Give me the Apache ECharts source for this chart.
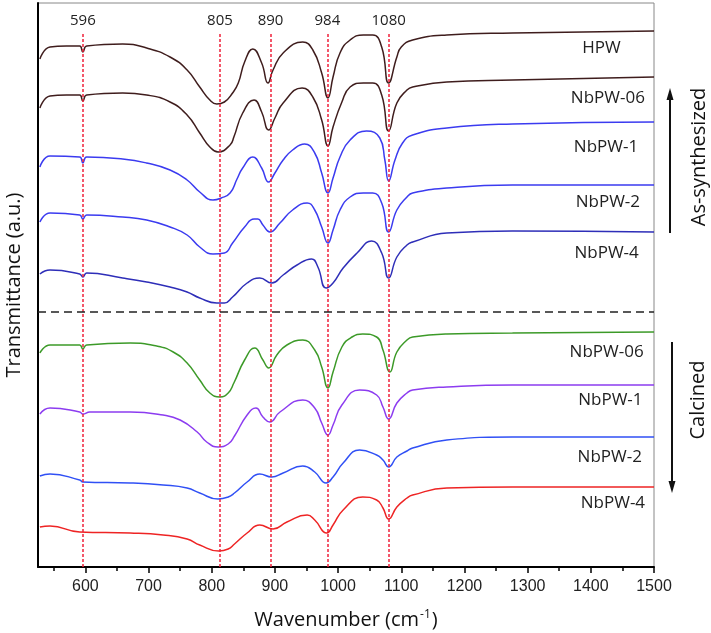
<!DOCTYPE html>
<html>
<head>
<meta charset="utf-8">
<title>FTIR spectra</title>
<script src="https://cdn.jsdelivr.net/npm/echarts@6.0.0/dist/echarts.min.js"></script>
<style>
  html, body { margin: 0; padding: 0; background: #fff; }
  #chart { width: 711px; height: 633px; }
</style>
</head>
<body>
<div id="chart"></div>
<script>
// [wavenumber (cm-1), transmittance (a.u., stacked offset)]
const asHPW = [[528,508],[544,520],[570,521],[591,521],[596,515],[602,521],[659,523],[697,519],[734,510],[761,497],[781,480],[797,467],[808,463],[820,465],[833,474],[842,484],[852,505],[865,518],[879,504],[889,484],[897,497],[913,514],[944,525],[960,517],[974,494],[984,469],[992,490],[1003,514],[1019,527],[1040,532],[1055,532],[1069,520],[1080,484],[1093,510],[1100,520],[1118,527],[1172,532],[1276,534],[1500,536]];
const asNb06 = [[528,459],[544,471],[570,472],[591,472],[596,466],[602,472],[659,474],[697,472],[734,465],[761,452],[781,434],[797,420],[810,415],[829,422],[835,430],[849,454],[867,467],[879,455],[890,437],[900,449],[913,464],[943,479],[960,470],[974,447],[984,421],[992,440],[1006,465],[1019,480],[1040,484],[1055,484],[1069,472],[1080,436],[1093,464],[1109,477],[1118,480],[1172,485],[1276,487],[1500,490]];
const asNb1 = [[528,400],[544,411],[591,410],[596,404],[602,410],[659,408],[697,404],[734,397],[761,387],[781,375],[802,367],[815,369],[829,374],[840,388],[849,399],[865,410],[879,399],[890,385],[900,394],[913,407],[928,417],[947,423],[963,414],[974,394],[984,374],[992,389],[1003,410],[1019,427],[1045,436],[1066,429],[1074,407],[1080,386],[1090,407],[1102,424],[1118,432],[1172,439],[1276,443],[1500,445]];
const asNb2 = [[528,345],[544,354],[591,352],[596,348],[602,352],[659,350],[697,347],[734,340],[761,332],[781,320],[802,313],[820,314],[833,324],[852,340],[867,348],[873,348],[881,342],[892,335],[908,344],[928,357],[951,364],[963,357],[974,340],[984,324],[992,337],[1003,357],[1019,370],[1040,374],[1055,374],[1069,364],[1080,335],[1093,357],[1109,370],[1118,374],[1172,379],[1276,382],[1500,382]];
const asNb4 = [[528,293],[544,297],[591,293],[596,290],[602,294],[659,289],[697,285],[734,280],[761,275],[781,269],[808,264],[820,264],[833,270],[856,284],[876,289],[895,284],[913,292],[935,302],[958,308],[968,300],[981,279],[992,284],[1008,299],[1030,314],[1053,326],[1069,314],[1080,289],[1093,310],[1109,322],[1118,325],[1172,334],[1276,336],[1500,335]];
const caNb06 = [[528,214],[544,222],[591,222],[596,218],[602,222],[671,224],[713,221],[739,215],[761,204],[781,187],[797,174],[813,170],[826,174],[835,184],[852,207],[868,219],[881,207],[890,199],[903,212],[919,222],[944,227],[963,217],[974,200],[984,179],[992,195],[1006,220],[1022,230],[1039,233],[1061,230],[1071,217],[1082,195],[1093,215],[1109,227],[1118,230],[1172,233],[1276,234],[1500,235]];
const caNb1 = [[528,153],[544,159],[591,155],[596,153],[607,155],[671,155],[723,152],[750,147],[777,135],[792,125],[810,120],[826,123],[836,131],[856,152],[870,159],[881,150],[892,145],[908,155],[944,167],[963,159],[974,144],[984,132],[992,142],[1006,162],[1034,177],[1061,172],[1071,160],[1080,148],[1093,164],[1109,174],[1118,177],[1172,180],[1276,182],[1500,182]];
const caNb2 = [[528,91],[544,93],[591,87],[596,85],[671,84],[723,82],[761,79],[781,74],[810,68],[826,70],[836,74],[856,85],[876,93],[895,90],[913,94],[944,101],[963,95],[981,84],[992,90],[1008,104],[1034,117],[1061,112],[1071,107],[1080,100],[1093,110],[1109,116],[1118,119],[1172,127],[1276,130],[1500,130]];
const caNb4 = [[528,40],[544,41],[591,35],[671,34],[723,32],[761,28],[781,22],[811,16],[826,18],[836,23],[856,34],[876,42],[897,38],[919,45],[951,52],[963,47],[982,34],[992,42],[1008,57],[1039,70],[1061,67],[1071,59],[1080,48],[1093,60],[1109,69],[1118,72],[1172,79],[1276,80],[1500,80]];

const peakPositions = [596, 813, 893, 983, 1080];
const peakLabels = ['596', '805', '890', '984', '1080'];
const separatorLevel = 255;
const peakLineTop = 535;

const xMajorTicks = [600, 700, 800, 900, 1000, 1100, 1200, 1300, 1400, 1500];
const xMinorTicks = [550, 650, 750, 850, 950, 1050, 1150, 1250, 1350, 1450];

const labelFont = '"Open Sans", "Noto Sans", sans-serif';

const spectra = [
  { name: 'HPW', data: asHPW, color: '#3f1d1d', labelAt: [1417, 519] },
  { name: 'NbPW-06', data: asNb06, color: '#3f1d1d', labelAt: [1427, 469] },
  { name: 'NbPW-1', data: asNb1, color: '#3b3bf0', labelAt: [1424, 420] },
  { name: 'NbPW-2', data: asNb2, color: '#3b3bf0', labelAt: [1427, 365] },
  { name: 'NbPW-4', data: asNb4, color: '#2e2eb8', labelAt: [1425, 314] },
  { name: 'NbPW-06', data: caNb06, color: '#3c9a28', labelAt: [1425, 215] },
  { name: 'NbPW-1', data: caNb1, color: '#8c3cf0', labelAt: [1431, 167] },
  { name: 'NbPW-2', data: caNb2, color: '#3050f5', labelAt: [1430, 110] },
  { name: 'NbPW-4', data: caNb4, color: '#ee2424', labelAt: [1435, 64] },
];

const chart = echarts.init(document.getElementById('chart'));

const series = spectra.map((s, index) => ({
  type: 'line',
  name: s.name + '-' + index,
  data: s.data,
  showSymbol: false,
  smooth: 0.5,
  lineStyle: { color: s.color, width: 1.5 },
  itemStyle: { color: s.color },
  silent: true,
  markPoint: {
    symbol: 'circle',
    symbolSize: 0,
    silent: true,
    label: {
      show: true,
      position: 'inside',
      formatter: s.name,
      color: '#222',
      fontSize: 17,
      fontFamily: labelFont,
    },
    data: [{ coord: s.labelAt }],
  },
}));

// peak guides and the as-synthesized / calcined separator
series[0].markLine = {
  silent: true,
  symbol: 'none',
  animation: false,
  lineStyle: { color: '#f0213a', type: [3, 2], width: 1.5 },
  label: {
    show: true,
    position: 'end',
    formatter: '{b}',
    color: '#222',
    fontSize: 15,
    fontFamily: labelFont,
    distance: 4,
  },
  data: peakPositions.map((x, i) => [
    { name: peakLabels[i], coord: [x, 0] },
    { coord: [x, peakLineTop] },
  ]).concat([
    {
      yAxis: separatorLevel,
      lineStyle: { color: '#222', type: [8, 5], width: 1.5 },
      label: { show: false },
    },
  ]),
};

const option = {
  animation: false,
  grid: {
    left: 38,
    right: 57,
    top: 3,
    bottom: 66,
    outerBoundsMode: 'none',
    show: true,
    borderColor: '#888',
    borderWidth: 1,
  },
  xAxis: [
    {
      type: 'value',
      min: 525,
      max: 1500,
      name: '{a|Wavenumber (cm}{s|-1}{a|)}',
      nameLocation: 'middle',
      nameGap: 42,
      nameTextStyle: {
        rich: {
          a: { fontSize: 20, fontFamily: labelFont, color: '#111' },
          s: { fontSize: 12, fontFamily: labelFont, color: '#111', verticalAlign: 'top', padding: [0, 1, 10, 1] },
        },
      },
      axisLine: { lineStyle: { color: '#000', width: 2 } },
      axisTick: { customValues: xMajorTicks, length: 6, lineStyle: { color: '#000', width: 1.5 } },
      axisLabel: {
        customValues: xMajorTicks,
        formatter: (value) => String(value),
        color: '#222',
        fontSize: 16,
        margin: 12,
        fontFamily: '"Liberation Sans", Arial, sans-serif',
      },
      splitLine: { show: false },
    },
    {
      type: 'value',
      min: 525,
      max: 1500,
      position: 'bottom',
      axisLine: { show: false },
      axisTick: { customValues: xMinorTicks, length: 4, lineStyle: { color: '#000', width: 1.5 } },
      axisLabel: { show: false },
      splitLine: { show: false },
    },
  ],
  yAxis: {
    type: 'value',
    min: 0,
    max: 564,
    name: 'Transmittance (a.u.)',
    nameLocation: 'middle',
    nameGap: 14,
    nameTextStyle: { fontSize: 20, fontFamily: labelFont, color: '#111' },
    axisLine: { show: true, lineStyle: { color: '#000', width: 2 } },
    axisTick: { show: false },
    axisLabel: { show: false },
    splitLine: { show: false },
  },
  graphic: [
    { type: 'line', shape: { x1: 670, y1: 233, x2: 670, y2: 98 }, style: { stroke: '#111', lineWidth: 2 } },
    { type: 'polygon', shape: { points: [[670, 88], [666.5, 100], [673.5, 100]] }, style: { fill: '#111' } },
    {
      type: 'text', x: 699, y: 157, rotation: Math.PI / 2,
      style: { text: 'As-synthesized', fontSize: 20, fontFamily: labelFont, fill: '#111', align: 'center', verticalAlign: 'middle' },
    },
    { type: 'line', shape: { x1: 672, y1: 342, x2: 672, y2: 483 }, style: { stroke: '#111', lineWidth: 2 } },
    { type: 'polygon', shape: { points: [[672, 493], [668.5, 481], [675.5, 481]] }, style: { fill: '#111' } },
    {
      type: 'text', x: 698, y: 400, rotation: Math.PI / 2,
      style: { text: 'Calcined', fontSize: 20, fontFamily: labelFont, fill: '#111', align: 'center', verticalAlign: 'middle' },
    },
  ],
  series,
};

chart.setOption(option);
</script>
</body>
</html>
